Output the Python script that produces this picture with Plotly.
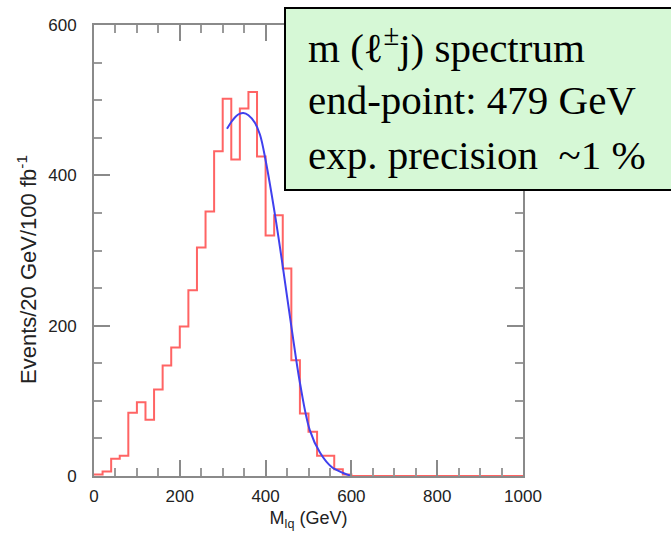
import numpy as np
import plotly.graph_objects as go

# Events per 20 GeV bin, 0-1000 GeV
bin_width = 20
counts = [2, 6, 23, 27, 84, 98, 75, 115, 147, 171,
          199, 247, 304, 352, 432, 502, 421, 489, 511, 425,
          320, 347, 276, 154, 83, 59, 27, 27, 9, 2,
          0, 0, 0, 0, 0, 0, 0, 0, 0, 0,
          0, 0, 0, 0, 0, 0, 0, 0, 0, 0]

# End-point fit curve
fit_x = [310, 320, 330, 340, 348, 360, 375, 387, 400, 422, 441, 461, 480, 503, 527, 554, 581, 600]
fit_y = [462, 471, 478, 482, 483, 480, 470, 454, 420, 347, 275, 195, 124, 61, 31, 12, 4, 0]

x_ticks = [0, 200, 400, 600, 800, 1000]
y_ticks = [0, 200, 400, 600]

box_lines = ["m (ℓ<sup>±</sup>j) spectrum",
             "end-point: 479 GeV",
             "exp. precision  ~1 %"]

edges = np.arange(len(counts) + 1) * bin_width
step_y = counts + [counts[-1]]

fig = go.Figure()
fig.add_trace(go.Scatter(x=edges, y=step_y, mode="lines", line_shape="hv",
                         line=dict(color="#ff6464", width=2), showlegend=False))
fig.add_trace(go.Scatter(x=fit_x, y=fit_y, mode="lines", line_shape="spline",
                         line=dict(color="#4040ee", width=2), showlegend=False))

W, H = 671, 536
L, R, T, B = 94, 523, 25, 476


def px(x):
    return (x - L) / (R - L)


def py(y):
    return (B - y) / (B - T)


axis_common = dict(
    showgrid=False, zeroline=False, showline=True, linecolor="#8a8a8a", linewidth=2,
    mirror="ticks", ticks="inside", ticklen=16, tickwidth=2, tickcolor="#8a8a8a",
    tickfont=dict(family="Liberation Sans, Arial", size=17, color="#222"),
    minor=dict(dtick=50, ticks="inside", ticklen=8, tickwidth=2, tickcolor="#9a9a9a"),
)

fig.update_xaxes(range=[0, 1000], tickvals=x_ticks, ticklabelstandoff=4,
                 title=dict(text="M<sub>lq</sub> (GeV)", standoff=6,
                            font=dict(family="Liberation Sans, Arial", size=18, color="#222")),
                 **axis_common)
fig.update_yaxes(range=[0, 600], tickvals=y_ticks, ticklabelstandoff=12, **axis_common)

# Fit summary box
fig.add_shape(type="rect", xref="paper", yref="paper",
              x0=px(285), x1=px(690), y0=py(190), y1=py(8),
              fillcolor="#d6f8d6", line=dict(color="black", width=2), layer="above")

for i, txt in enumerate(box_lines):
    fig.add_annotation(xref="paper", yref="paper", x=px(306), y=py(45 + 55 * i),
                       xanchor="left", yanchor="middle", showarrow=False, text=txt,
                       font=dict(family="Liberation Serif, Times New Roman", size=41, color="black"))

fig.add_annotation(xref="paper", yref="paper", x=px(27), y=py(270), textangle=-90,
                   xanchor="center", yanchor="middle", showarrow=False,
                   text="Events/20 GeV/100 fb<sup>-1</sup>",
                   font=dict(family="Liberation Sans, Arial", size=22, color="#222"))

fig.update_layout(width=W, height=H, margin=dict(l=L, r=W - R, t=T, b=H - B),
                  plot_bgcolor="white", paper_bgcolor="white", showlegend=False)

fig.write_html("out.html")
